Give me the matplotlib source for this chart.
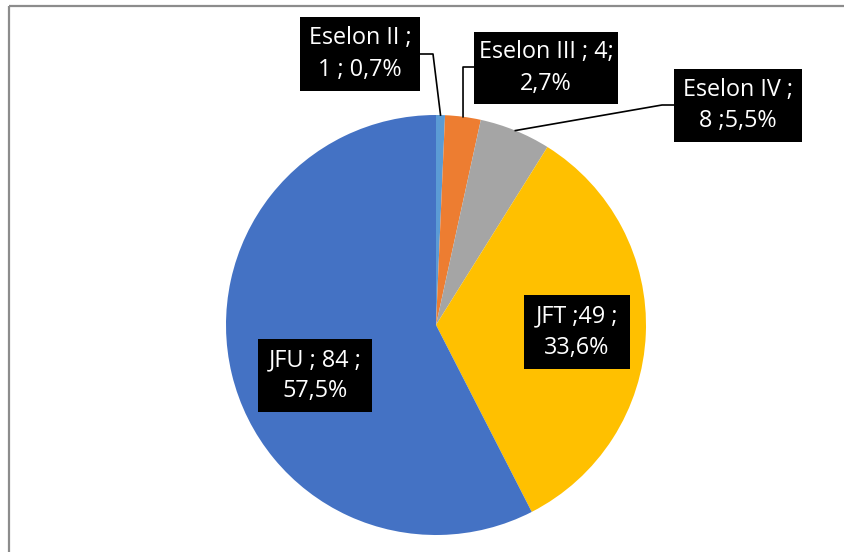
import matplotlib.pyplot as plt
from matplotlib.patches import Rectangle
import numpy as np

# data
categories = ['Eselon II', 'Eselon III', 'Eselon IV', 'JFT', 'JFU']
counts = [1, 4, 8, 49, 84]
labels = ['Eselon II ;\n1 ; 0,7%', 'Eselon III ; 4;\n2,7%', 'Eselon IV ;\n8 ;5,5%',
          'JFT ;49 ;\n33,6%', 'JFU ; 84 ;\n57,5%']
colors = ['#5B9BD5', '#ED7D31', '#A5A5A5', '#FFC000', '#4472C4']

W, H = 844, 552
fig = plt.figure(figsize=(W / 100, H / 100), dpi=100)
ax = fig.add_axes([0, 0, 1, 1])
ax.set_xlim(0, W)
ax.set_ylim(0, H)
ax.axis('off')

cx, cy, r = 436, H - 325, 210
ax.pie(counts, colors=colors, startangle=90, counterclock=False,
       center=(cx, cy), radius=r, wedgeprops=dict(linewidth=0))
ax.set_xlim(0, W)
ax.set_ylim(0, H)
ax.set_aspect('auto')

# chart frame (only top and left edges visible)
ax.plot([9, W], [H - 6, H - 6], color='#8C8C8C', lw=1.6, solid_capstyle='butt')
ax.plot([9, 9], [0, H - 6], color='#8C8C8C', lw=1.6, solid_capstyle='butt')

# label boxes in pixel coords (x0, x1, ytop, ybottom)
boxes = [(300, 420, 17, 91), (474, 618, 32, 104), (674, 802, 69, 142),
         (524, 630, 295, 369), (258, 372, 339, 412)]

# leader line elbows (x of horizontal stub end, y)
elbows = {0: (433, 54), 1: (463, 67), 2: (662, 105)}

cum = np.cumsum([0] + counts)
total = sum(counts)
for i, (lab, (x0, x1, yt, yb)) in enumerate(zip(labels, boxes)):
    ax.add_patch(Rectangle((x0, H - yb), x1 - x0, yb - yt,
                           facecolor='black', edgecolor='none', zorder=4))
    ax.text((x0 + x1) / 2, H - (yt + yb) / 2, lab, ha='center', va='center',
            color='white', fontsize=16.8, family='Open Sans', linespacing=1.4,
            zorder=5)
    if i in elbows:
        ang = np.deg2rad((cum[i] + counts[i] / 2) / total * 360)
        px, py = cx + r * np.sin(ang), cy + r * np.cos(ang)
        ex, ey = elbows[i]
        bx = x1 if ex > x1 else x0
        ax.plot([bx, ex, px], [H - ey, H - ey, py], color='black', lw=1.2,
                zorder=3)

fig.savefig('out.png', dpi=100, facecolor='white')
